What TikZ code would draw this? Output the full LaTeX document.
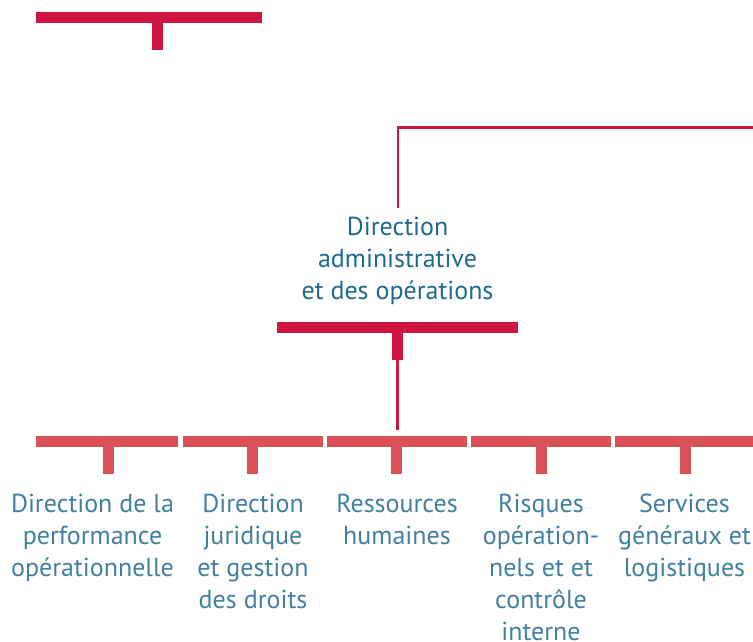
\documentclass[tikz,border=0pt]{standalone}
\usepackage{fontspec}
\setmainfont{PT Sans}
\definecolor{crim}{HTML}{CE1440}
\definecolor{lightred}{HTML}{D95057}
\definecolor{titleblue}{HTML}{1D6B89}
\definecolor{textblue}{HTML}{41809E}
\begin{document}
\begin{tikzpicture}[x=1pt,y=-1pt,
  bar/.style={fill=#1, inner sep=0pt, outer sep=0pt, draw=none, rectangle},
  lbl/.style={inner sep=0pt, align=center, font=\fontsize{26}{32}\selectfont, text=textblue, anchor=base},
  link/.style={draw=crim, line width=2.5pt}]
\useasboundingbox (0,0) rectangle (753,641);
% top-left T
\node[bar=crim, minimum width=226pt, minimum height=11pt] (topbar) at (149,17.5) {};
\node[bar=crim, minimum width=11pt, minimum height=27pt] (topstem) at (157.5,36.5) {};
% title (anchor base = last line baseline)
\node[lbl, text=titleblue] (title) at (397.5,299.5) {Direction\\administrative\\et des opérations};
\coordinate (edge) at (753,127.3);
% middle T
\node[bar=crim, minimum width=241pt, minimum height=11pt] (midbar) at (397.5,327.5) {};
\node[bar=crim, minimum width=11pt, minimum height=27pt] (midstem) at (397.5,346.5) {};
% bottom bars
\foreach \i/\a/\b/\s in {1/36/178/108.5, 2/183/323/252.5, 3/327/467/396.5, 4/471/611/541.5, 5/615/753/685.5}{
  \node[bar=lightred, minimum width={\b-\a}, minimum height=11pt] (bb\i) at ({(\a+\b)/2},441.3) {};
  \node[bar=lightred, minimum width=11pt, minimum height=27pt] (bs\i) at (\s,460.3) {};
}
% connectors
\draw[link] ([yshift=9pt]title.north -| 398,0) |- (edge);
\draw[link] (midstem.south -| 397.3,0) -- ([yshift=6pt]bb3.north -| 397.3,0);
% labels
\node[lbl] (l1) at (92.5,576.7) {Direction de la\\performance\\opérationnelle};
\node[lbl] (l2) at (253,608.7) {Direction\\juridique\\et gestion\\des droits};
\node[lbl] (l3) at (397,544.7) {Ressources\\humaines};
\node[lbl] (l4) at (541,640.7) {Risques\\opération-\\nels et et\\contrôle\\interne};
\node[lbl] (l5) at (684.5,576.7) {Services\\généraux et\\logistiques};
\end{tikzpicture}
\end{document}
